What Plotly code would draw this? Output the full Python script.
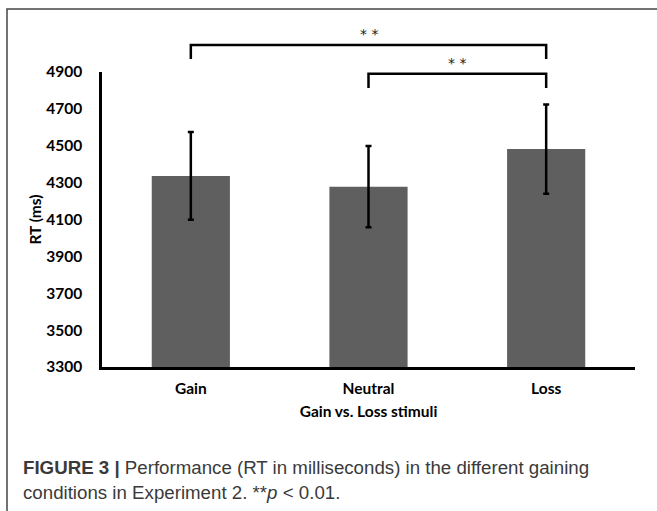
import plotly.graph_objects as go

categories = ["Gain", "Neutral", "Loss"]
rt_means = [4336, 4278, 4482]
rt_errors = [238, 220, 242]
y_ticks = [3300, 3500, 3700, 3900, 4100, 4300, 4500, 4700, 4900]
# significance brackets: (from category index, to category index, bracket height in ms)
brackets = [(0, 2, 5047), (1, 2, 4890)]
bracket_labels = ["* *", "* *"]

W, H = 657, 511
L, R, T, B = 102, 22, 72, 144
YMIN, YMAX = 3300, 4900
pw, ph = W - L - R, H - T - B

def px_x(x):
    return (x - L) / pw

def px_y(y):
    return (H - B - y) / ph

def val_y(v):
    return (v - YMIN) / (YMAX - YMIN)

font_fam = "Lato"
fs = 15.5

fig = go.Figure()
fig.add_trace(go.Bar(
    x=categories, y=rt_means,
    marker=dict(color="#5f5f5f", line=dict(width=0)),
    width=0.44,
    error_y=dict(type="data", array=rt_errors, color="black", thickness=2.5, width=3),
))

shapes = []
annotations = []
drop = 77  # bracket tick length in ms units
for (i0, i1, hv), lab in zip(brackets, bracket_labels):
    yt = val_y(hv)
    yb = val_y(hv - drop)
    shapes.append(dict(type="path", xref="x", yref="paper",
                       path=f"M {i0},{yb} L {i0},{yt} L {i1},{yt} L {i1},{yb}",
                       line=dict(color="black", width=2.5)))
    annotations.append(dict(x=(i0 + i1) / 2, y=yt, xref="x", yref="paper",
                            text=lab, showarrow=False, yanchor="bottom", yshift=1,
                            font=dict(family="DejaVu Sans", size=14, color="#222")))

# figure frame
shapes.append(dict(type="rect", xref="paper", yref="paper",
                   x0=px_x(7), x1=px_x(W + 10), y0=px_y(H + 10), y1=px_y(9),
                   line=dict(color="#444444", width=1.5)))

cap_font = dict(family="Liberation Sans", size=18.7, color="#3a3a3a")
annotations.append(dict(x=px_x(21), y=px_y(467), xref="paper", yref="paper",
                        xanchor="left", yanchor="middle", showarrow=False,
                        text="<b>FIGURE 3 |</b> Performance (RT in milliseconds) in the different gaining",
                        font=cap_font))
annotations.append(dict(x=px_x(21), y=px_y(492), xref="paper", yref="paper",
                        xanchor="left", yanchor="middle", showarrow=False,
                        text="conditions in Experiment 2. **<i>p</i> < 0.01.",
                        font=cap_font))

fig.update_layout(
    width=W, height=H,
    margin=dict(l=L, r=R, t=T, b=B, pad=0, autoexpand=False),
    paper_bgcolor="white", plot_bgcolor="white",
    showlegend=False,
    shapes=shapes,
    annotations=annotations,
    font=dict(family=font_fam, color="black"),
    xaxis=dict(
        automargin=False,
        showline=True, linecolor="black", linewidth=2.5,
        ticks="", showgrid=False,
        tickfont=dict(family=font_fam, size=fs, color="black", weight="bold"),
        ticklabelstandoff=6,
        title=dict(text="<b>Gain vs. Loss stimuli</b>", font=dict(family=font_fam, size=fs), standoff=10),
    ),
    yaxis=dict(
        automargin=False,
        range=[YMIN, YMAX], tickvals=y_ticks,
        showline=True, linecolor="black", linewidth=2.5,
        ticks="", showgrid=False, zeroline=False,
        tickfont=dict(family=font_fam, size=fs, color="black", weight="bold"),
        ticklabelstandoff=14,
        title=dict(text="<b>RT (ms)</b>", font=dict(family=font_fam, size=fs), standoff=1),
    ),
)

fig.write_html("out.html", config={"displayModeBar": False},
               post_script="document.body.style.margin='0';document.body.style.overflow='hidden';")
